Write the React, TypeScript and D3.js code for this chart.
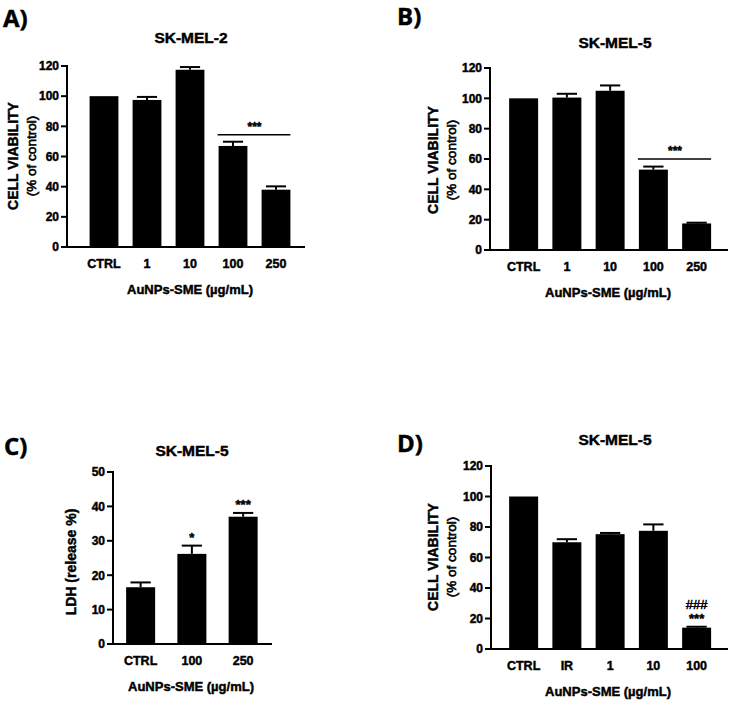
import React from "react";
import * as d3 from "d3";

// categories
const catsA = ["CTRL", "1", "10", "100", "250"];
const catsC = ["CTRL", "100", "250"];
const catsD = ["CTRL", "IR", "1", "10", "100"];

// means and upper error (SEM)
const meanA = [100, 97.5, 117.5, 67, 38];
const errA = [0, 2, 1.8, 2.8, 2.2];
const meanB = [100, 100.5, 105, 53, 17.5];
const errB = [0, 2.5, 3.5, 2, 0.5];
const meanC = [16.5, 26.2, 37];
const errC = [1.4, 2.4, 1.1];
const meanD = [100, 70, 75.3, 77.5, 14];
const errD = [0, 2, 0.8, 4.2, 0.6];

// tick values
const ticksViab = [0, 20, 40, 60, 80, 100, 120];
const ticksLDH = [0, 10, 20, 30, 40, 50];

// significance marks above single bars (one array per panel)
const marksC = ["", "*", "***"];
const marksD = ["", "", "", "", "***"];
const marksD2 = ["", "", "", "", "###"];

const FONT = "'Liberation Sans', Arial, sans-serif";
const HEAVY = { stroke: "#000", strokeWidth: 0.45 };

type PanelProps = {
  letter: string;
  letterX: number;
  letterY: number;
  title: string;
  titleX: number;
  titleY: number;
  axisX: number;
  axisEnd: number;
  top: number;
  bottom: number;
  bandStart: number;
  step: number;
  padInner: number;
  cats: string[];
  means: number[];
  errs: number[];
  yMax: number;
  ticks: number[];
  yTitle: string;
  ySub?: string;
  yTitleX: number;
  ySubX?: number;
  yTitleY: number;
  xTitleX: number;
  bracket?: { from: number; to: number; value: number; label: string };
  marks?: string[];
  marks2?: string[];
};

const Panel = (p: PanelProps) => {
  const x = d3
    .scaleBand()
    .domain(p.cats)
    .range([p.bandStart, p.bandStart + p.cats.length * p.step])
    .paddingInner(p.padInner)
    .paddingOuter(p.padInner / 2);
  const y = d3.scaleLinear().domain([0, p.yMax]).range([p.bottom, p.top]);
  const bw = x.bandwidth();
  const capW = bw * 0.7;

  return (
    <g fontFamily={FONT} fontWeight="bold" fill="#000">
      <text x={p.letterX} y={p.letterY} fontFamily="'Open Sans', sans-serif" fontSize={24} fontWeight="bold" {...HEAVY}>
        {p.letter}
      </text>
      <text x={p.titleX} y={p.titleY} textAnchor="middle" fontSize={15.5} {...HEAVY}>
        {p.title}
      </text>

      {/* bars */}
      {p.cats.map((c, i) => (
        <rect key={c} x={x(c)} y={y(p.means[i])} width={bw} height={p.bottom - y(p.means[i])} fill="#000" />
      ))}

      {/* error bars (upper only) */}
      {p.cats.map((c, i) =>
        p.errs[i] > 0 ? (
          <g key={"e" + c} stroke="#000" strokeWidth={2}>
            <line x1={x(c)! + bw / 2} x2={x(c)! + bw / 2} y1={y(p.means[i])} y2={y(p.means[i] + p.errs[i])} />
            <line
              x1={x(c)! + bw / 2 - capW / 2}
              x2={x(c)! + bw / 2 + capW / 2}
              y1={y(p.means[i] + p.errs[i])}
              y2={y(p.means[i] + p.errs[i])}
            />
          </g>
        ) : null
      )}

      {/* axes */}
      <line x1={p.axisX} x2={p.axisX} y1={p.top - 1} y2={p.bottom + 1} stroke="#000" strokeWidth={2} />
      <line x1={p.axisX - 1} x2={p.axisEnd} y1={p.bottom} y2={p.bottom} stroke="#000" strokeWidth={2} />
      {p.ticks.map((t) => (
        <g key={t}>
          <line x1={p.axisX - 6} x2={p.axisX} y1={y(t)} y2={y(t)} stroke="#000" strokeWidth={2} />
          <text x={p.axisX - 8} y={y(t)} dy="0.36em" textAnchor="end" fontSize={12} {...HEAVY}>
            {t}
          </text>
        </g>
      ))}
      {p.cats.map((c) => (
        <text key={"t" + c} x={x(c)! + bw / 2} y={p.bottom + 21} textAnchor="middle" fontSize={12.5} {...HEAVY}>
          {c}
        </text>
      ))}
      <text x={p.xTitleX} y={p.bottom + 47} textAnchor="middle" fontSize={13} {...HEAVY}>
        AuNPs-SME (µg/mL)
      </text>

      {/* y title */}
      <text transform={`translate(${p.yTitleX},${p.yTitleY}) rotate(-90)`} textAnchor="middle" fontSize={14} {...HEAVY}>
        {p.yTitle}
      </text>
      {p.ySub && (
        <text
          transform={`translate(${p.ySubX},${p.yTitleY}) rotate(-90)`}
          textAnchor="middle"
          fontSize={13.5}
          fontWeight="normal"
          stroke="#000"
          strokeWidth={0.6}
        >
          {p.ySub}
        </text>
      )}

      {/* significance bracket */}
      {p.bracket && (
        <g>
          <line
            x1={x(p.cats[p.bracket.from])! - 1}
            x2={x(p.cats[p.bracket.to])! + bw}
            y1={y(p.bracket.value)}
            y2={y(p.bracket.value)}
            stroke="#000"
            strokeWidth={1.5}
          />
          <text
            x={(x(p.cats[p.bracket.from])! + x(p.cats[p.bracket.to])! + bw) / 2}
            y={y(p.bracket.value) - 4}
            textAnchor="middle"
            fontSize={12}
            {...HEAVY}
          >
            {p.bracket.label}
          </text>
        </g>
      )}
      {p.marks &&
        p.cats.map((c, i) =>
          p.marks![i] ? (
            <text
              key={"m" + c}
              x={x(c)! + bw / 2}
              y={y(p.means[i] + p.errs[i]) - 4}
              textAnchor="middle"
              fontSize={13}
              {...HEAVY}
            >
              {p.marks![i]}
            </text>
          ) : null
        )}
      {p.marks2 &&
        p.cats.map((c, i) =>
          p.marks2![i] ? (
            <text
              key={"n" + c}
              x={x(c)! + bw / 2}
              y={y(p.means[i] + p.errs[i]) - 18}
              textAnchor="middle"
              fontSize={13}
              fontWeight="normal"
              stroke="#000"
              strokeWidth={0.5}
            >
              {p.marks2![i]}
            </text>
          ) : null
        )}
    </g>
  );
};

export default function App() {
  return (
    <svg width={732} height={705} style={{ position: "absolute", left: 0, top: 0, background: "#fff" }}>
      <rect width={732} height={705} fill="#fff" />
      <Panel
        letter="A)" letterX={3} letterY={27}
        title="SK-MEL-2" titleX={191} titleY={43}
        axisX={67} axisEnd={305} top={66} bottom={247}
        bandStart={82.5} step={43} padInner={0.33}
        cats={catsA} means={meanA} errs={errA}
        yMax={120} ticks={ticksViab}
        yTitle="CELL VIABILITY" ySub="(% of control)" yTitleX={18} ySubX={36} yTitleY={156}
        xTitleX={190}
        bracket={{ from: 3, to: 4, value: 74.5, label: "***" }}
      />
      <Panel
        letter="B)" letterX={397} letterY={25}
        title="SK-MEL-5" titleX={615} titleY={48}
        axisX={490} axisEnd={728} top={68} bottom={250}
        bandStart={502} step={43.25} padInner={0.33}
        cats={catsA} means={meanB} errs={errB}
        yMax={120} ticks={ticksViab}
        yTitle="CELL VIABILITY" ySub="(% of control)" yTitleX={438} ySubX={456} yTitleY={160}
        xTitleX={608}
        bracket={{ from: 3, to: 4, value: 60, label: "***" }}
      />
      <Panel
        letter="C)" letterX={4} letterY={455}
        title="SK-MEL-5" titleX={192} titleY={456}
        axisX={113} axisEnd={272} top={472} bottom={644}
        bandStart={115} step={51.25} padInner={0.434}
        cats={catsC} means={meanC} errs={errC}
        yMax={50} ticks={ticksLDH}
        yTitle="LDH (release %)" yTitleX={76} yTitleY={562}
        xTitleX={191}
        marks={marksC}
      />
      <Panel
        letter="D)" letterX={397} letterY={452}
        title="SK-MEL-5" titleX={615} titleY={445}
        axisX={491} axisEnd={728} top={466} bottom={649}
        bandStart={502} step={43.25} padInner={0.33}
        cats={catsD} means={meanD} errs={errD}
        yMax={120} ticks={ticksViab}
        yTitle="CELL VIABILITY" ySub="(% of control)" yTitleX={438} ySubX={456} yTitleY={557}
        xTitleX={608}
        marks={marksD} marks2={marksD2}
      />
    </svg>
  );
}
